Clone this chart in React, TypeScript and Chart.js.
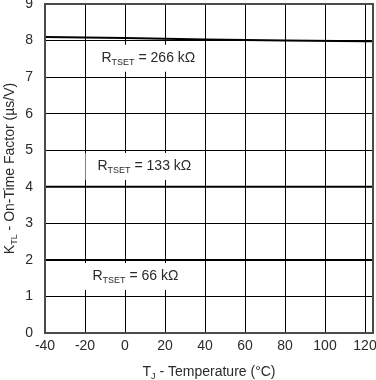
import React, { useEffect, useRef } from "react";
import { Chart, registerables } from "chart.js";

Chart.register(...registerables);

// ---- Data ----
const temperatures = [-40, 0, 40, 80, 120, 124];
const kTl266 = [8.1, 8.07, 8.03, 8.0, 7.98, 7.98];
const kTl133 = [4.0, 4.0, 4.0, 4.0, 4.0, 4.0];
const kTl66 = [2.0, 2.0, 2.0, 2.0, 2.0, 2.0];
const seriesNames = ["266 kΩ", "133 kΩ", "66 kΩ"];
const xTickValues = [-40, -20, 0, 20, 40, 60, 80, 100, 120];
const yTickValues = [0, 1, 2, 3, 4, 5, 6, 7, 8, 9];

// label anchors in data units (text left, text baseline)
const labelX = [-11.75, -13.75, -16.25];
const labelY = [7.42, 4.46, 1.45];

const FONT = '"Liberation Sans", Arial, Helvetica, sans-serif';
const TEXT = "#2a2a2a";

type Part = { t: string; sub?: boolean };

function measureParts(ctx: CanvasRenderingContext2D, parts: Part[], size: number, subSize: number) {
  let w = 0;
  for (const p of parts) {
    ctx.font = `${p.sub ? subSize : size}px ${FONT}`;
    w += ctx.measureText(p.t).width;
  }
  return w;
}

function drawParts(ctx: CanvasRenderingContext2D, parts: Part[], x: number, y: number, size: number, subSize: number, subDrop: number) {
  let cx = x;
  ctx.textAlign = "left";
  ctx.textBaseline = "alphabetic";
  for (const p of parts) {
    ctx.font = `${p.sub ? subSize : size}px ${FONT}`;
    ctx.fillText(p.t, cx, y + (p.sub ? subDrop : 0));
    cx += ctx.measureText(p.t).width;
  }
  return cx;
}

const overlayPlugin = {
  id: "overlay",
  beforeDatasetsDraw(chart: any) {
    const ctx: CanvasRenderingContext2D = chart.ctx;
    const xs = chart.scales.x;
    const ys = chart.scales.y;
    ctx.save();
    for (let i = 0; i < seriesNames.length; i++) {
      const parts: Part[] = [
        { t: "R" },
        { t: "TSET", sub: true },
        { t: " = " + seriesNames[i] },
      ];
      const px = xs.getPixelForValue(labelX[i]);
      const py = ys.getPixelForValue(labelY[i]);
      const w = measureParts(ctx, parts, 14, 9);
      ctx.fillStyle = "#ffffff";
      ctx.fillRect(px - 12, py - 17, w + 18, 27);
      ctx.fillStyle = TEXT;
      drawParts(ctx, parts, px, py, 14, 9, 3);
    }
    ctx.restore();
  },
  afterDraw(chart: any) {
    const ctx: CanvasRenderingContext2D = chart.ctx;
    const a = chart.chartArea;
    ctx.save();
    // frame
    ctx.strokeStyle = "#4a4a4a";
    ctx.lineWidth = 2;
    ctx.strokeRect(a.left, a.top, a.right - a.left, a.bottom - a.top);

    ctx.fillStyle = TEXT;
    // x title
    const xParts: Part[] = [{ t: "T" }, { t: "J", sub: true }, { t: " - Temperature (°C)" }];
    const xw = measureParts(ctx, xParts, 14, 9);
    drawParts(ctx, xParts, (a.left + a.right) / 2 - xw / 2, 376, 14, 9, 3);

    // y title
    const yParts: Part[] = [{ t: "K" }, { t: "TL", sub: true }, { t: " - On-Time Factor (µs/V)" }];
    const yw = measureParts(ctx, yParts, 14, 9);
    ctx.translate(14, (a.top + a.bottom) / 2);
    ctx.rotate(-Math.PI / 2);
    drawParts(ctx, yParts, -yw / 2, 0, 14, 9, 3);
    ctx.restore();
  },
};

export default function App() {
  const ref = useRef<HTMLCanvasElement | null>(null);

  useEffect(() => {
    if (!ref.current) return;
    const mk = (data: number[]) => ({
      data: temperatures.map((t, i) => ({ x: t, y: data[i] })),
      borderColor: "#000000",
      borderWidth: 2,
      pointRadius: 0,
      tension: 0,
      fill: false,
    });
    const chart = new Chart(ref.current, {
      type: "line",
      data: {
        datasets: [
          { label: seriesNames[0], ...mk(kTl266) },
          { label: seriesNames[1], ...mk(kTl133) },
          { label: seriesNames[2], ...mk(kTl66) },
        ],
      },
      options: {
        animation: false,
        responsive: false,
        devicePixelRatio: 1,
        layout: { padding: { top: 4, right: 3, left: 0, bottom: 0 } },
        plugins: { legend: { display: false }, tooltip: { enabled: false } },
        scales: {
          x: {
            type: "linear",
            min: -40,
            max: 124,
            afterBuildTicks: (s: any) => {
              s.ticks = xTickValues.map((v) => ({ value: v }));
            },
            afterFit: (s: any) => {
              s.height = 47;
              s.paddingLeft = 0;
              s.paddingRight = 0;
            },
            grid: { color: "#000000", lineWidth: 1, drawTicks: false },
            border: { display: false },
            ticks: {
              padding: 5,
              maxRotation: 0,
              autoSkip: false,
              color: TEXT,
              font: { family: FONT, size: 14 },
            },
          },
          y: {
            type: "linear",
            min: 0,
            max: 9,
            afterBuildTicks: (s: any) => {
              s.ticks = yTickValues.map((v) => ({ value: v }));
            },
            afterFit: (s: any) => {
              s.width = 45;
              s.paddingTop = 0;
              s.paddingBottom = 0;
            },
            grid: { color: "#000000", lineWidth: 1, drawTicks: false },
            border: { display: false },
            ticks: {
              padding: 12,
              autoSkip: false,
              color: TEXT,
              font: { family: FONT, size: 14 },
            },
          },
        },
      },
      plugins: [overlayPlugin],
    } as any);
    return () => chart.destroy();
  }, []);

  return (
    <div style={{ position: "fixed", left: 0, top: 0, width: 376, height: 380, background: "#fff" }}>
      <canvas ref={ref} width={376} height={380} />
    </div>
  );
}
